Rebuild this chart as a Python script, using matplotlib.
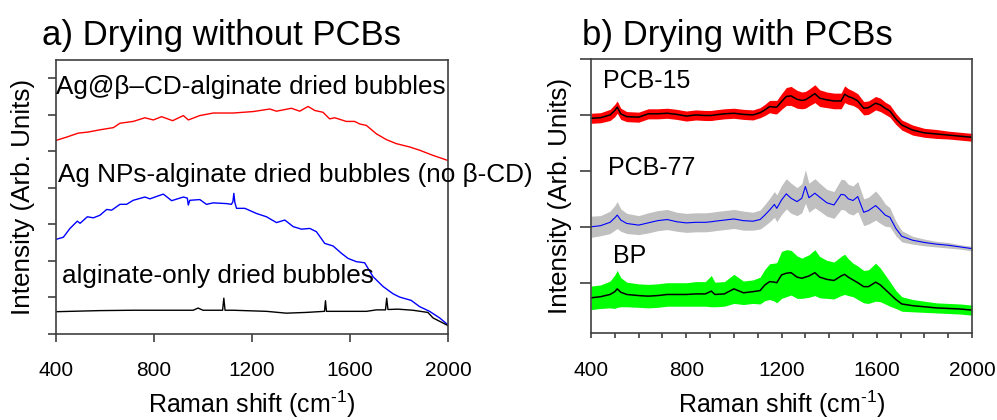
import matplotlib

matplotlib.use("Agg")
import matplotlib.pyplot as plt
from matplotlib.ticker import MultipleLocator

plt.rcParams["font.family"] = ["Liberation Sans", "DejaVu Sans"]
plt.rcParams["mathtext.fontset"] = "custom"
plt.rcParams["mathtext.rm"] = "Liberation Sans"
plt.rcParams["mathtext.it"] = "Liberation Sans"

# ---- panel a: drying without PCBs ----
ag_cd_x = [400, 443, 491, 532, 579, 634, 661, 715, 763, 797, 831, 876, 920, 940, 987,
           1042, 1123, 1205, 1273, 1300, 1361, 1395, 1429, 1456, 1490, 1517, 1538, 1585,
           1619, 1640, 1667, 1708, 1749, 1790, 1844, 1885, 1939, 2000]
ag_cd_y = [5.30, 5.39, 5.50, 5.53, 5.59, 5.65, 5.77, 5.82, 5.92, 5.86, 5.95, 5.84, 5.98, 5.86, 5.98,
           6.05, 6.05, 6.09, 6.16, 6.10, 6.18, 6.10, 6.23, 6.12, 6.07, 5.89, 5.92, 5.82,
           5.82, 5.75, 5.71, 5.48, 5.32, 5.21, 5.12, 5.03, 4.89, 4.75]

ag_np_x = [400, 430, 457, 487, 498, 528, 552, 579, 607, 627, 661, 688, 715, 763, 783, 838,
           872, 920, 936, 940, 946, 987, 1014, 1042, 1096, 1116, 1122, 1126, 1130, 1137,
           1171, 1218, 1259, 1300, 1334, 1368, 1402, 1436, 1463, 1497, 1531, 1565, 1592,
           1626, 1660, 1694, 1735, 1776, 1803, 1850, 1884, 1925, 1966, 2000]
ag_np_y = [2.59, 2.65, 2.89, 3.09, 3.03, 3.21, 3.18, 3.25, 3.41, 3.39, 3.55, 3.55, 3.66, 3.75, 3.70, 3.83,
           3.65, 3.75, 3.72, 3.53, 3.66, 3.68, 3.55, 3.59, 3.57, 3.55, 3.62, 3.85, 3.60, 3.44,
           3.44, 3.30, 3.21, 3.05, 3.12, 2.94, 2.87, 2.89, 2.80, 2.48, 2.41, 2.21, 2.07,
           1.98, 1.95, 1.57, 1.30, 1.10, 1.01, 0.92, 0.75, 0.62, 0.44, 0.25]

alg_x = [400, 579, 715, 960, 980, 1000, 1080, 1085, 1090, 1123, 1259, 1340, 1420, 1496, 1500,
         1504, 1600, 1667, 1708, 1745, 1750, 1755, 1796, 1857, 1918, 1939, 2000]
alg_y = [0.61, 0.64, 0.65, 0.65, 0.71, 0.65, 0.65, 0.98, 0.65, 0.65, 0.62, 0.57, 0.59, 0.62, 0.91,
         0.62, 0.62, 0.62, 0.66, 0.66, 0.98, 0.67, 0.68, 0.65, 0.59, 0.44, 0.23]

# ---- panel b: drying with PCBs (mean line and band half-width) ----
shift_b = [400, 440, 480, 500, 510, 525, 550, 600, 640, 680, 720, 760, 800, 840, 880, 905,
           920, 960, 1000, 1040, 1080, 1110, 1130, 1150, 1170, 1180, 1200, 1220, 1240, 1265,
           1285, 1300, 1315, 1340, 1360, 1390, 1420, 1450, 1465, 1480, 1500, 1520, 1545,
           1565, 1595, 1615, 1635, 1655, 1680, 1705, 1750, 1800, 1850, 1900, 1950, 2000]

pcb15_mean = [3.94, 3.95, 4.00, 4.08, 4.14, 4.02, 3.97, 3.96, 4.02, 4.02, 4.03, 4.01, 3.98, 4.00, 3.99, 3.99,
              4.00, 4.02, 4.03, 4.01, 4.00, 4.04, 4.09, 4.15, 4.14, 4.14, 4.24, 4.33, 4.34, 4.28,
              4.26, 4.27, 4.31, 4.38, 4.30, 4.27, 4.25, 4.25, 4.37, 4.33, 4.30, 4.25, 4.12,
              4.13, 4.21, 4.18, 4.12, 4.07, 3.93, 3.82, 3.73, 3.68, 3.66, 3.64, 3.62, 3.60]
pcb15_hw = [0.09, 0.09, 0.10, 0.11, 0.11, 0.10, 0.09, 0.09, 0.09, 0.09, 0.09, 0.09, 0.09, 0.09, 0.09, 0.09,
            0.09, 0.09, 0.09, 0.09, 0.09, 0.09, 0.10, 0.11, 0.12, 0.12, 0.14, 0.16, 0.17, 0.16,
            0.15, 0.15, 0.15, 0.16, 0.15, 0.14, 0.14, 0.14, 0.15, 0.14, 0.13, 0.13, 0.12,
            0.12, 0.12, 0.12, 0.11, 0.11, 0.10, 0.09, 0.09, 0.08, 0.08, 0.07, 0.07, 0.07]

pcb77_mean = [2.00, 2.02, 2.08, 2.16, 2.21, 2.12, 2.06, 2.03, 2.07, 2.11, 2.13, 2.09, 2.07, 2.08, 2.08, 2.09,
              2.10, 2.12, 2.14, 2.11, 2.10, 2.13, 2.21, 2.30, 2.40, 2.33, 2.48, 2.59, 2.51, 2.45,
              2.51, 2.72, 2.52, 2.60, 2.53, 2.43, 2.39, 2.58, 2.57, 2.50, 2.47, 2.54, 2.26,
              2.29, 2.38, 2.30, 2.21, 2.17, 1.97, 1.83, 1.76, 1.72, 1.69, 1.67, 1.64, 1.61]
pcb77_hw = [0.19, 0.18, 0.20, 0.22, 0.24, 0.20, 0.18, 0.17, 0.18, 0.18, 0.18, 0.17, 0.17, 0.17, 0.17, 0.17,
            0.17, 0.17, 0.17, 0.17, 0.16, 0.17, 0.19, 0.21, 0.23, 0.24, 0.26, 0.27, 0.27, 0.25,
            0.26, 0.30, 0.26, 0.26, 0.25, 0.24, 0.24, 0.27, 0.27, 0.26, 0.26, 0.27, 0.24,
            0.24, 0.26, 0.24, 0.20, 0.17, 0.13, 0.10, 0.07, 0.06, 0.05, 0.05, 0.04, 0.04]

bp_mean = [0.73, 0.75, 0.79, 0.84, 0.89, 0.83, 0.79, 0.77, 0.76, 0.77, 0.79, 0.79, 0.79, 0.80, 0.80, 0.85,
           0.79, 0.80, 0.89, 0.82, 0.84, 0.86, 0.96, 1.02, 1.01, 1.00, 1.14, 1.17, 1.18, 1.10,
           1.08, 1.10, 1.12, 1.18, 1.10, 1.06, 1.04, 1.12, 1.15, 1.10, 1.05, 1.00, 0.93,
           0.93, 1.01, 0.96, 0.88, 0.80, 0.70, 0.62, 0.59, 0.57, 0.55, 0.54, 0.53, 0.51]
bp_hw = [0.21, 0.21, 0.24, 0.30, 0.33, 0.26, 0.22, 0.21, 0.21, 0.21, 0.21, 0.21, 0.21, 0.22, 0.22, 0.28,
         0.22, 0.22, 0.26, 0.21, 0.21, 0.24, 0.28, 0.32, 0.34, 0.36, 0.42, 0.42, 0.40, 0.38,
         0.36, 0.37, 0.38, 0.41, 0.37, 0.34, 0.33, 0.35, 0.36, 0.33, 0.30, 0.30, 0.29,
         0.30, 0.34, 0.30, 0.26, 0.22, 0.16, 0.13, 0.11, 0.10, 0.09, 0.09, 0.09, 0.09]

AXIS_COLOR = "#404040"
X_LABEL = "Raman shift (cm$^{\u20101}$)"
Y_LABEL = "Intensity (Arb. Units)"


def style_axes(ax, ytick_len, xtick_len, label_pad):
    for spine in ax.spines.values():
        spine.set_color(AXIS_COLOR)
        spine.set_linewidth(1.2)
    ax.tick_params(axis="y", which="both", direction="out", length=ytick_len, width=1.2,
                   color=AXIS_COLOR, labelleft=False)
    ax.tick_params(axis="x", which="both", direction="out", length=xtick_len, width=1.2,
                   color=AXIS_COLOR, labelsize=15, pad=label_pad)
    ax.set_xlim(400, 2000)
    ax.xaxis.set_major_locator(MultipleLocator(400))
    ax.set_xlabel(X_LABEL, fontsize=18, va="baseline")
    ax.set_ylabel(Y_LABEL, fontsize=18.8)


fig = plt.figure(figsize=(9.97, 4.2), dpi=100)
ax_a = fig.add_axes([0.0562, 0.2048, 0.3931, 0.6522])
ax_b = fig.add_axes([0.5928, 0.2070, 0.3822, 0.6525])

# panel a
ax_a.plot(ag_cd_x, ag_cd_y, color="#ff0000", lw=1.0)
ax_a.plot(ag_np_x, ag_np_y, color="#0000ff", lw=1.0)
ax_a.plot(alg_x, alg_y, color="black", lw=1.0)
ax_a.set_ylim(0, 7.5)
ax_a.set_yticks(range(0, 8))
style_axes(ax_a, 5.8, 5.8, 14)
ax_a.yaxis.set_label_coords(-0.054, 0.5)
ax_a.xaxis.set_label_coords(0.5, -0.288)

ax_a.text(400, 6.58, "Ag@\u03b2\u2013CD-alginate dried bubbles", fontsize=18.8, va="baseline")
ax_a.text(408, 4.15, "Ag NPs-alginate dried bubbles (no \u03b2-CD)", fontsize=18.8, va="baseline")
ax_a.text(425, 1.39, "alginate-only dried bubbles", fontsize=18.8, va="baseline")

# panel b
for mean, hw, band_color, line_color, lw in [
    (pcb15_mean, pcb15_hw, "#ff0000", "black", 1.1),
    (pcb77_mean, pcb77_hw, "#c0c0c0", "#0000ff", 0.8),
    (bp_mean, bp_hw, "#00ff00", "black", 1.1),
]:
    lower = [m - h for m, h in zip(mean, hw)]
    upper = [m + h for m, h in zip(mean, hw)]
    ax_b.fill_between(shift_b, lower, upper, color=band_color, lw=0)
    ax_b.plot(shift_b, mean, color=line_color, lw=lw)

ax_b.set_ylim(0.1, 5.0)
ax_b.set_yticks([1, 2, 3, 4, 5])
ax_b.xaxis.set_minor_locator(MultipleLocator(100))
style_axes(ax_b, 7.7, 3.6, 16.2)
ax_b.yaxis.set_label_coords(-0.051, 0.5)
ax_b.xaxis.set_label_coords(0.5, -0.292)

ax_b.text(450, 4.48, "PCB-15", fontsize=18, va="baseline")
ax_b.text(471, 2.93, "PCB-77", fontsize=18, va="baseline")
ax_b.text(492, 1.36, "BP", fontsize=18, va="baseline")

fig.text(42 / 997, 1 - 45 / 420, "a) Drying without PCBs", fontsize=25, va="baseline")
fig.text(582 / 997, 1 - 45 / 420, "b) Drying with PCBs", fontsize=25, va="baseline")

fig.savefig("out.png", dpi=100)
